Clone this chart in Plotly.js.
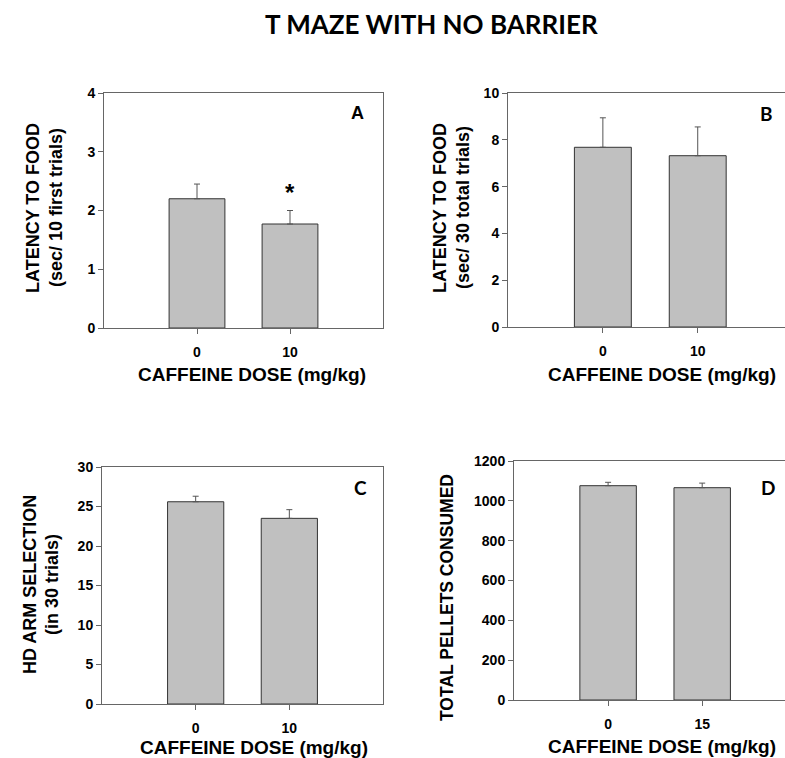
<!DOCTYPE html>
<html>
<head>
<meta charset="utf-8">
<script src="https://cdn.plot.ly/plotly-3.0.1.min.js"></script>
<style>html,body{margin:0;padding:0;background:#fff;}#chart{width:785px;height:758px;}</style>
</head>
<body>
<div id="chart"></div>
<script>
// ---- data ----
const dosesA = ["0", "10"];
const latencyFirst = [2.2, 1.77];
const latencyFirstErr = [0.25, 0.23];
const significant = [false, true];

const dosesB = ["0", "10"];
const latencyTotal = [7.68, 7.32];
const latencyTotalErr = [1.26, 1.23];

const dosesC = ["0", "10"];
const hdArm = [25.6, 23.5];
const hdArmErr = [0.7, 1.1];

const dosesD = ["0", "15"];
const pellets = [1076, 1066];
const pelletsErr = [17, 23];

const xTitle = "CAFFEINE DOSE (mg/kg)";
// ---- style ----
const AR = "Arial, 'Liberation Sans', sans-serif";
const CAL = "Lato, 'Open Sans', sans-serif";
const barFill = "#c0c0c0";
const barLine = "#333333";
const axisCol = "#666666";

function barTrace(x, y, err, xa, ya) {
  return {
    type: "bar", x: x, y: y, xaxis: xa, yaxis: ya, width: 0.6,
    marker: {color: barFill, line: {color: barLine, width: 1}},
    error_y: {type: "data", array: err, symmetric: false, arrayminus: err.map(() => 0),
              color: "#555555", thickness: 1, width: 3},
    showlegend: false, hoverinfo: "x+y"
  };
}

const data = [
  barTrace(dosesA, latencyFirst, latencyFirstErr, "x", "y"),
  barTrace(dosesB, latencyTotal, latencyTotalErr, "x2", "y2"),
  barTrace(dosesC, hdArm, hdArmErr, "x3", "y3"),
  barTrace(dosesD, pellets, pelletsErr, "x4", "y4")
];

const tickFont = {family: AR, size: 14, color: "#000", weight: 700};

function xax(domain, range, anchor, mirror) {
  return {domain: domain, range: range, anchor: anchor, type: "category",
    showline: true, linecolor: axisCol, linewidth: 1, mirror: mirror,
    ticks: "outside", ticklen: 5, tickcolor: axisCol, tickwidth: 1,
    ticklabelstandoff: 6, tickprefix: "<b>", ticksuffix: "</b>",
    showgrid: false, zeroline: false, fixedrange: true,
    tickfont: tickFont};
}
function yax(domain, range, dtick, anchor, mirror) {
  return {domain: domain, range: range, dtick: dtick, tick0: 0, anchor: anchor,
    showline: true, linecolor: axisCol, linewidth: 1, mirror: mirror,
    ticks: "outside", ticklen: 5, tickcolor: axisCol, tickwidth: 1,
    tickprefix: "<b>", ticksuffix: "</b>",
    showgrid: false, zeroline: false, fixedrange: true,
    tickfont: tickFont};
}

const W = 785, H = 758;
const px = v => v / W, py = v => 1 - v / H;

function txt(text, x, y, family, size, angle) {
  return {text: "<b>" + text + "</b>", xref: "paper", yref: "paper", x: px(x), y: py(y),
    xanchor: "center", yanchor: "middle", textangle: angle || 0, showarrow: false,
    font: {family: family, size: size, color: "#000"}};
}

const annotations = [
  txt("T MAZE WITH NO BARRIER", 431, 24, CAL, 26),
  txt("A", 357, 113, AR, 18),
  txt("B", 766, 113, CAL, 19),
  txt("C", 360, 487, CAL, 19),
  txt("D", 768, 487, CAL, 19),
  txt(xTitle, 252, 375, AR, 19),
  txt(xTitle, 662, 375, AR, 19),
  txt(xTitle, 254, 747, AR, 19),
  txt(xTitle, 662, 746, AR, 19),
  txt("LATENCY TO FOOD", 33, 208, AR, 18, -90),
  txt("(sec/ 10 first trials)", 56, 208, AR, 18, -90),
  txt("LATENCY TO FOOD", 440, 208, AR, 18, -90),
  txt("(sec/ 30 total trials)", 463, 208, AR, 18, -90),
  txt("HD ARM SELECTION", 30, 585, AR, 18, -90),
  txt("(in 30 trials)", 52, 585, AR, 18, -90),
  txt("TOTAL PELLETS CONSUMED", 447, 598, AR, 17.5, -90)
];
// significance marker above error bar
significant.forEach((s, i) => {
  if (s) annotations.push({text: "<b>*</b>", xref: "x", yref: "y", x: i,
    y: latencyFirst[i] + latencyFirstErr[i] + 0.3, xanchor: "center", yanchor: "middle",
    showarrow: false, font: {family: AR, size: 24, color: "#000"}});
});

const layout = {
  width: W, height: H,
  margin: {l: 0, r: 0, t: 0, b: 0},
  paper_bgcolor: "#fff", plot_bgcolor: "#fff",
  showlegend: false,
  xaxis: xax([px(104), px(383)], [-1, 2], "y", true),
  yaxis: yax([py(328), py(93)], [0, 4], 1, "x", true),
  xaxis2: xax([px(508), 1], [-1, 1.92], "y2", true),
  yaxis2: yax([py(327), py(93)], [0, 10], 2, "x2", false),
  xaxis3: xax([px(102), px(383)], [-1, 2], "y3", true),
  yaxis3: yax([py(704), py(467)], [0, 30], 5, "x3", true),
  xaxis4: xax([px(514), 1], [-1, 1.88], "y4", true),
  yaxis4: yax([py(700), py(461)], [0, 1200], 200, "x4", false),
  annotations: annotations
};

Plotly.newPlot("chart", data, layout, {staticPlot: true, displayModeBar: false});
</script>
</body>
</html>
